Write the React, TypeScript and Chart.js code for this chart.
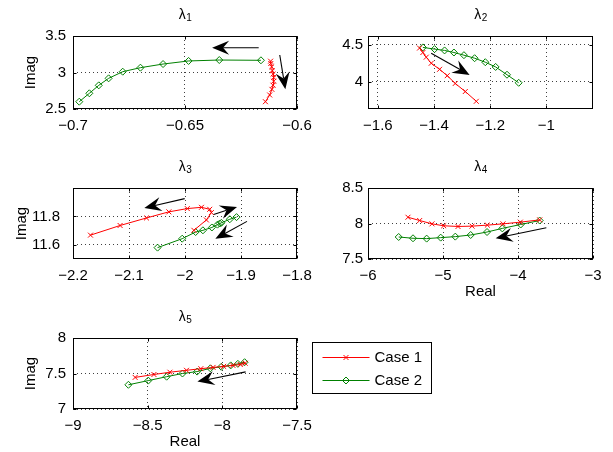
import React, { useEffect, useRef } from 'react';
import { Chart, registerables } from 'chart.js';
import { drawPoint } from 'chart.js/helpers';

Chart.register(...registerables);

// ---------- data ----------
const seriesNames = ['Case 1', 'Case 2'];

// lambda 1
const l1Case1Re = [-0.6141, -0.6122, -0.6112, -0.6107, -0.6104, -0.6104, -0.6107, -0.6110, -0.6113, -0.6117, -0.6118];
const l1Case1Im = [2.600, 2.692, 2.769, 2.826, 2.881, 2.932, 2.977, 3.023, 3.078, 3.123, 3.155];
const l1Case2Re = [-0.6972, -0.6927, -0.6885, -0.6841, -0.6778, -0.6699, -0.6598, -0.6484, -0.6347, -0.6161];
const l1Case2Im = [2.600, 2.715, 2.824, 2.920, 3.011, 3.066, 3.116, 3.158, 3.171, 3.167];
const l1XTicks = [-0.7, -0.65, -0.6];
const l1YTicks = [2.5, 3, 3.5];
const l1Arrows = [[-0.6171, 3.34, -0.6379, 3.34], [-0.6077, 3.24, -0.6052, 2.77]];

// lambda 2
const l2Case1Re = [-1.4515, -1.4396, -1.4277, -1.4099, -1.3802, -1.3529, -1.3244, -1.2887, -1.2495];
const l2Case1Im = [4.455, 4.395, 4.332, 4.250, 4.168, 4.082, 3.977, 3.868, 3.736];
const l2Case2Re = [-1.4396, -1.398, -1.3624, -1.3291, -1.2935, -1.2555, -1.2174, -1.1806, -1.1402, -1.0986];
const l2Case2Im = [4.464, 4.441, 4.423, 4.395, 4.359, 4.318, 4.264, 4.200, 4.095, 3.986];
const l2XTicks = [-1.6, -1.4, -1.2, -1];
const l2YTicks = [4, 4.5];
const l2Arrows = [[-1.41, 4.386, -1.2733, 4.091]];

// lambda 3
const l3Case1Re = [-2.1688, -2.1159, -2.0688, -2.0288, -1.9959, -1.9706, -1.9559, -1.9529, -1.9618, -1.9841];
const l3Case1Im = [11.668, 11.736, 11.789, 11.832, 11.855, 11.864, 11.850, 11.827, 11.775, 11.702];
const l3Case2Re = [-2.049, -2.005, -1.981, -1.968, -1.952, -1.942, -1.938, -1.935, -1.920, -1.908];
const l3Case2Im = [11.580, 11.643, 11.690, 11.702, 11.722, 11.742, 11.750, 11.755, 11.780, 11.795];
const l3XTicks = [-2.2, -2.1, -2, -1.9, -1.8];
const l3YTicks = [11.6, 11.8];
const l3Arrows = [
  [-2.0006, 11.925, -2.0726, 11.859],
  [-1.9488, 11.814, -1.9071, 11.866],
  [-1.8893, 11.765, -1.9458, 11.642],
];

// lambda 4
const l4Case1Re = [-5.467, -5.311, -5.147, -4.991, -4.800, -4.613, -4.409, -4.200, -3.969, -3.711];
const l4Case1Im = [8.088, 8.042, 7.995, 7.968, 7.958, 7.963, 7.977, 7.995, 8.019, 8.051];
const l4Case2Re = [-5.591, -5.400, -5.218, -5.031, -4.836, -4.631, -4.413, -4.209, -3.964, -3.711];
const l4Case2Im = [7.810, 7.792, 7.787, 7.801, 7.815, 7.838, 7.880, 7.931, 7.986, 8.042];
const l4XTicks = [-6, -5, -4, -3];
const l4YTicks = [7.5, 8, 8.5];
const l4Arrows = [[-3.622, 7.94, -4.298, 7.792]];

// lambda 5
const l5Case1Re = [-8.584, -8.458, -8.351, -8.240, -8.144, -8.062, -7.991, -7.929, -7.880, -7.847];
const l5Case1Im = [7.445, 7.486, 7.518, 7.545, 7.568, 7.586, 7.600, 7.614, 7.627, 7.645];
const l5Case2Re = [-8.629, -8.496, -8.373, -8.267, -8.169, -8.080, -8.007, -7.944, -7.896, -7.851];
const l5Case2Im = [7.341, 7.400, 7.455, 7.500, 7.527, 7.573, 7.595, 7.614, 7.636, 7.659];
const l5XTicks = [-9, -8.5, -8, -7.5];
const l5YTicks = [7, 7.5, 8];
const l5Arrows = [[-7.844, 7.523, -8.167, 7.386]];

// ---------- styling ----------
const FONT = '"Liberation Sans", Arial, "DejaVu Sans", sans-serif';
const RED = '#ff0000';
const GREEN = '#008000';

type Spec = {
  title: [string, string];
  c1: [number[], number[]];
  c2: [number[], number[]];
  xr: [number, number];
  yr: [number, number];
  xTicks: number[];
  yTicks: number[];
  xLabel?: string;
  yLabel?: string;
  yTitlePad?: number;
  xTitlePad?: number;
  yTickPad: number;
  arrows: number[][];
  canvas: [number, number, number, number];
  box: [number, number, number, number];
  legend?: boolean;
};

const SPECS: Spec[] = [
  {
    title: ['λ', '1'], c1: [l1Case1Re, l1Case1Im], c2: [l1Case2Re, l1Case2Im],
    xr: [-0.7, -0.6], yr: [2.5, 3.5], xTicks: l1XTicks, yTicks: l1YTicks,
    yLabel: 'Imag', yTitlePad: 23, yTickPad: 7, arrows: l1Arrows,
    canvas: [0, 0, 320, 139], box: [73, 36, 297, 109],
  },
  {
    title: ['λ', '2'], c1: [l2Case1Re, l2Case1Im], c2: [l2Case2Re, l2Case2Im],
    xr: [-1.635, -0.834], yr: [3.632, 4.618], xTicks: l2XTicks, yTicks: l2YTicks,
    yTickPad: 5, arrows: l2Arrows,
    canvas: [300, 0, 313, 139], box: [368, 36, 593, 109],
  },
  {
    title: ['λ', '3'], c1: [l3Case1Re, l3Case1Im], c2: [l3Case2Re, l3Case2Im],
    xr: [-2.2, -1.8], yr: [11.5, 12.0], xTicks: l3XTicks, yTicks: l3YTicks,
    yLabel: 'Imag', yTitlePad: 14.5, yTickPad: 13, arrows: l3Arrows,
    canvas: [0, 152, 320, 152], box: [73, 188, 297, 259],
  },
  {
    title: ['λ', '4'], c1: [l4Case1Re, l4Case1Im], c2: [l4Case2Re, l4Case2Im],
    xr: [-6, -3], yr: [7.5, 8.5], xTicks: l4XTicks, yTicks: l4YTicks,
    xLabel: 'Real', xTitlePad: 4.5, yTickPad: 5, arrows: l4Arrows,
    canvas: [300, 152, 313, 152], box: [368, 188, 593, 259],
  },
  {
    title: ['λ', '5'], c1: [l5Case1Re, l5Case1Im], c2: [l5Case2Re, l5Case2Im],
    xr: [-9, -7.5], yr: [7, 8], xTicks: l5XTicks, yTicks: l5YTicks,
    xLabel: 'Real', xTitlePad: 2.5, yLabel: 'Imag', yTitlePad: 23, yTickPad: 7, arrows: l5Arrows,
    canvas: [0, 302, 450, 150], box: [73, 338, 297, 409], legend: true,
  },
];

function fmt(v: number): string {
  const s = String(Math.round(v * 1e6) / 1e6);
  return s.replace('-', '\u2212');
}

function toPts(xs: number[], ys: number[]) {
  return xs.map((x, i) => ({ x, y: ys[i] }));
}

// ---------- plugins ----------
const subTitlePlugin = {
  id: 'subTitle',
  afterDraw(chart: any, _args: any, opts: any) {
    if (!opts || !opts.base) return;
    const { ctx, chartArea } = chart;
    ctx.save();
    ctx.fillStyle = '#000';
    ctx.textBaseline = 'alphabetic';
    ctx.textAlign = 'left';
    ctx.font = `14px ${FONT}`;
    const w1 = ctx.measureText(opts.base).width;
    ctx.font = `10px ${FONT}`;
    const w2 = ctx.measureText(opts.sub).width;
    const x0 = (chartArea.left + chartArea.right) / 2 - (w1 + w2) / 2;
    const baseY = chartArea.top - 17.5;
    ctx.font = `14px ${FONT}`;
    ctx.fillText(opts.base, x0, baseY);
    ctx.font = `10px ${FONT}`;
    ctx.fillText(opts.sub, x0 + w1 + 0.5, baseY + 2.6);
    ctx.restore();
  },
};

const framePlugin = {
  id: 'frame',
  afterDatasetsDraw(chart: any) {
    const { ctx, chartArea: a, scales } = chart;
    const l = Math.round(a.left) + 0.5;
    const t = Math.round(a.top) + 0.5;
    const r = Math.round(a.right) - 0.5;
    const b = Math.round(a.bottom) - 0.5;
    ctx.save();
    ctx.strokeStyle = '#000';
    ctx.lineWidth = 1;
    ctx.setLineDash([]);
    ctx.strokeRect(l, t, r - l, b - t);
    const tl = 3;
    ctx.beginPath();
    scales.x.ticks.forEach((tk: any) => {
      const px = Math.round(scales.x.getPixelForValue(tk.value)) + 0.5;
      ctx.moveTo(px, b); ctx.lineTo(px, b - tl);
      ctx.moveTo(px, t); ctx.lineTo(px, t + tl);
    });
    scales.y.ticks.forEach((tk: any) => {
      const py = Math.round(scales.y.getPixelForValue(tk.value)) + 0.5;
      ctx.moveTo(l, py); ctx.lineTo(l + tl, py);
      ctx.moveTo(r, py); ctx.lineTo(r - tl, py);
    });
    ctx.stroke();
    ctx.restore();
  },
};

const arrowsPlugin = {
  id: 'arrowsPlugin',
  afterDatasetsDraw(chart: any, _args: any, opts: any) {
    const list: number[][] = (opts && opts.arrows) || [];
    const { ctx, scales } = chart;
    ctx.save();
    ctx.setLineDash([]);
    list.forEach(([x1, y1, x2, y2]) => {
      const sx = scales.x.getPixelForValue(x1);
      const sy = scales.y.getPixelForValue(y1);
      const ex = scales.x.getPixelForValue(x2);
      const ey = scales.y.getPixelForValue(y2);
      const dx = ex - sx, dy = ey - sy;
      const len = Math.hypot(dx, dy) || 1;
      const ux = dx / len, uy = dy / len;
      const nx = -uy, ny = ux;
      const L = 17, W = 7, notch = 11;
      ctx.strokeStyle = '#000';
      ctx.lineWidth = 1.1;
      ctx.beginPath();
      ctx.moveTo(sx, sy);
      ctx.lineTo(ex - ux * notch, ey - uy * notch);
      ctx.stroke();
      ctx.fillStyle = '#000';
      ctx.beginPath();
      ctx.moveTo(ex, ey);
      ctx.lineTo(ex - ux * L + nx * W, ey - uy * L + ny * W);
      ctx.lineTo(ex - ux * notch, ey - uy * notch);
      ctx.lineTo(ex - ux * L - nx * W, ey - uy * L - ny * W);
      ctx.closePath();
      ctx.fill();
    });
    ctx.restore();
  },
};

const caseLegendPlugin = {
  id: 'caseLegend',
  afterDraw(chart: any, _args: any, opts: any) {
    if (!opts || !opts.display) return;
    const { ctx, chartArea } = chart;
    const left = Math.round(chartArea.right + 15) + 0.5;
    const top = Math.round(chartArea.top + 4) + 0.5;
    const w = 119, h = 51;
    const rows = [14.5, 37];
    ctx.save();
    ctx.setLineDash([]);
    ctx.fillStyle = '#fff';
    ctx.fillRect(left, top, w, h);
    ctx.strokeStyle = '#000';
    ctx.lineWidth = 1;
    ctx.strokeRect(left, top, w, h);
    chart.data.datasets.forEach((ds: any, i: number) => {
      const y = Math.round(top + rows[i]) + 0.5;
      ctx.strokeStyle = ds.borderColor;
      ctx.lineWidth = ds.borderWidth;
      ctx.beginPath();
      ctx.moveTo(left + 10, y);
      ctx.lineTo(left + 57, y);
      ctx.stroke();
      ctx.fillStyle = 'rgba(0,0,0,0)';
      drawPoint(ctx, { pointStyle: ds.pointStyle, radius: ds.pointRadius, borderWidth: 1, rotation: 0 } as any, left + 33.5, y);
      ctx.fillStyle = '#000';
      ctx.font = `15px ${FONT}`;
      ctx.textBaseline = 'middle';
      ctx.textAlign = 'left';
      ctx.fillText(ds.label, left + 62, y);
    });
    ctx.restore();
  },
};

function buildConfig(s: Spec): any {
  const [cl, ct, cw, ch] = s.canvas;
  const [bl, bt, br, bb] = s.box;
  const yw = bl - cl;
  const pr = cl + cw - br;
  const pt = bt - ct;
  const xh = ct + ch - bb;
  const tickFont = { family: FONT, size: 15 };
  return {
    type: 'scatter',
    data: {
      datasets: [
        {
          label: seriesNames[0],
          data: toPts(s.c1[0], s.c1[1]),
          showLine: true,
          borderColor: RED,
          backgroundColor: 'rgba(0,0,0,0)',
          borderWidth: 1,
          pointStyle: 'crossRot',
          pointRadius: 3.5,
          pointHoverRadius: 3.5,
          pointBorderColor: RED,
          pointBackgroundColor: 'rgba(0,0,0,0)',
          pointBorderWidth: 1,
          tension: 0,
        },
        {
          label: seriesNames[1],
          data: toPts(s.c2[0], s.c2[1]),
          showLine: true,
          borderColor: GREEN,
          backgroundColor: 'rgba(0,0,0,0)',
          borderWidth: 1,
          pointStyle: 'rectRot',
          pointRadius: 3.5,
          pointHoverRadius: 3.5,
          pointBorderColor: GREEN,
          pointBackgroundColor: 'rgba(0,0,0,0)',
          pointBorderWidth: 1,
          tension: 0,
        },
      ],
    },
    options: {
      responsive: false,
      animation: false,
      devicePixelRatio: 1,
      events: [],
      layout: { padding: { left: 0, top: pt, right: pr, bottom: 0 } },
      plugins: {
        legend: { display: false },
        tooltip: { enabled: false },
        title: { display: false },
        subTitle: { base: s.title[0], sub: s.title[1] },
        arrowsPlugin: { arrows: s.arrows },
        caseLegend: { display: !!s.legend },
      },
      scales: {
        x: {
          type: 'linear',
          position: 'bottom',
          min: s.xr[0],
          max: s.xr[1],
          afterBuildTicks: (sc: any) => { sc.ticks = s.xTicks.map((v) => ({ value: v })); },
          afterFit: (sc: any) => { sc.height = xh; },
          ticks: {
            callback: (v: number) => fmt(v),
            padding: 8,
            maxRotation: 0,
            minRotation: 0,
            autoSkip: false,
            color: '#000',
            font: tickFont,
          },
          grid: { color: 'rgba(0,0,0,0.75)', lineWidth: 1, drawTicks: false },
          border: { display: false, dash: [1, 3] },
          title: {
            display: !!s.xLabel,
            text: s.xLabel || '',
            color: '#000',
            font: { family: FONT, size: 15, lineHeight: 1 },
            padding: { top: 0, bottom: s.xTitlePad || 0 },
          },
        },
        y: {
          type: 'linear',
          position: 'left',
          min: s.yr[0],
          max: s.yr[1],
          afterBuildTicks: (sc: any) => { sc.ticks = s.yTicks.map((v) => ({ value: v })); },
          afterFit: (sc: any) => { sc.width = yw; },
          ticks: {
            callback: (v: number) => fmt(v),
            padding: s.yTickPad,
            autoSkip: false,
            color: '#000',
            font: tickFont,
          },
          grid: { color: 'rgba(0,0,0,0.75)', lineWidth: 1, drawTicks: false },
          border: { display: false, dash: [1, 3] },
          title: {
            display: !!s.yLabel,
            text: s.yLabel || '',
            color: '#000',
            font: { family: FONT, size: 15, lineHeight: 1 },
            padding: { top: s.yTitlePad || 0, bottom: 0 },
          },
        },
      },
    },
    plugins: [framePlugin, arrowsPlugin, caseLegendPlugin, subTitlePlugin],
  };
}

export default function App() {
  const refs = useRef<(HTMLCanvasElement | null)[]>([]);
  useEffect(() => {
    const charts = SPECS.map((s, i) => new Chart(refs.current[i] as HTMLCanvasElement, buildConfig(s)));
    return () => charts.forEach((c) => c.destroy());
  }, []);
  return (
    <div style={{ position: 'absolute', left: 0, top: 0, width: 613, height: 452, background: '#fff' }}>
      {SPECS.map((s, i) => (
        <canvas
          key={i}
          ref={(el) => { refs.current[i] = el; }}
          width={s.canvas[2]}
          height={s.canvas[3]}
          style={{ position: 'absolute', left: s.canvas[0], top: s.canvas[1], width: s.canvas[2], height: s.canvas[3] }}
        />
      ))}
    </div>
  );
}
